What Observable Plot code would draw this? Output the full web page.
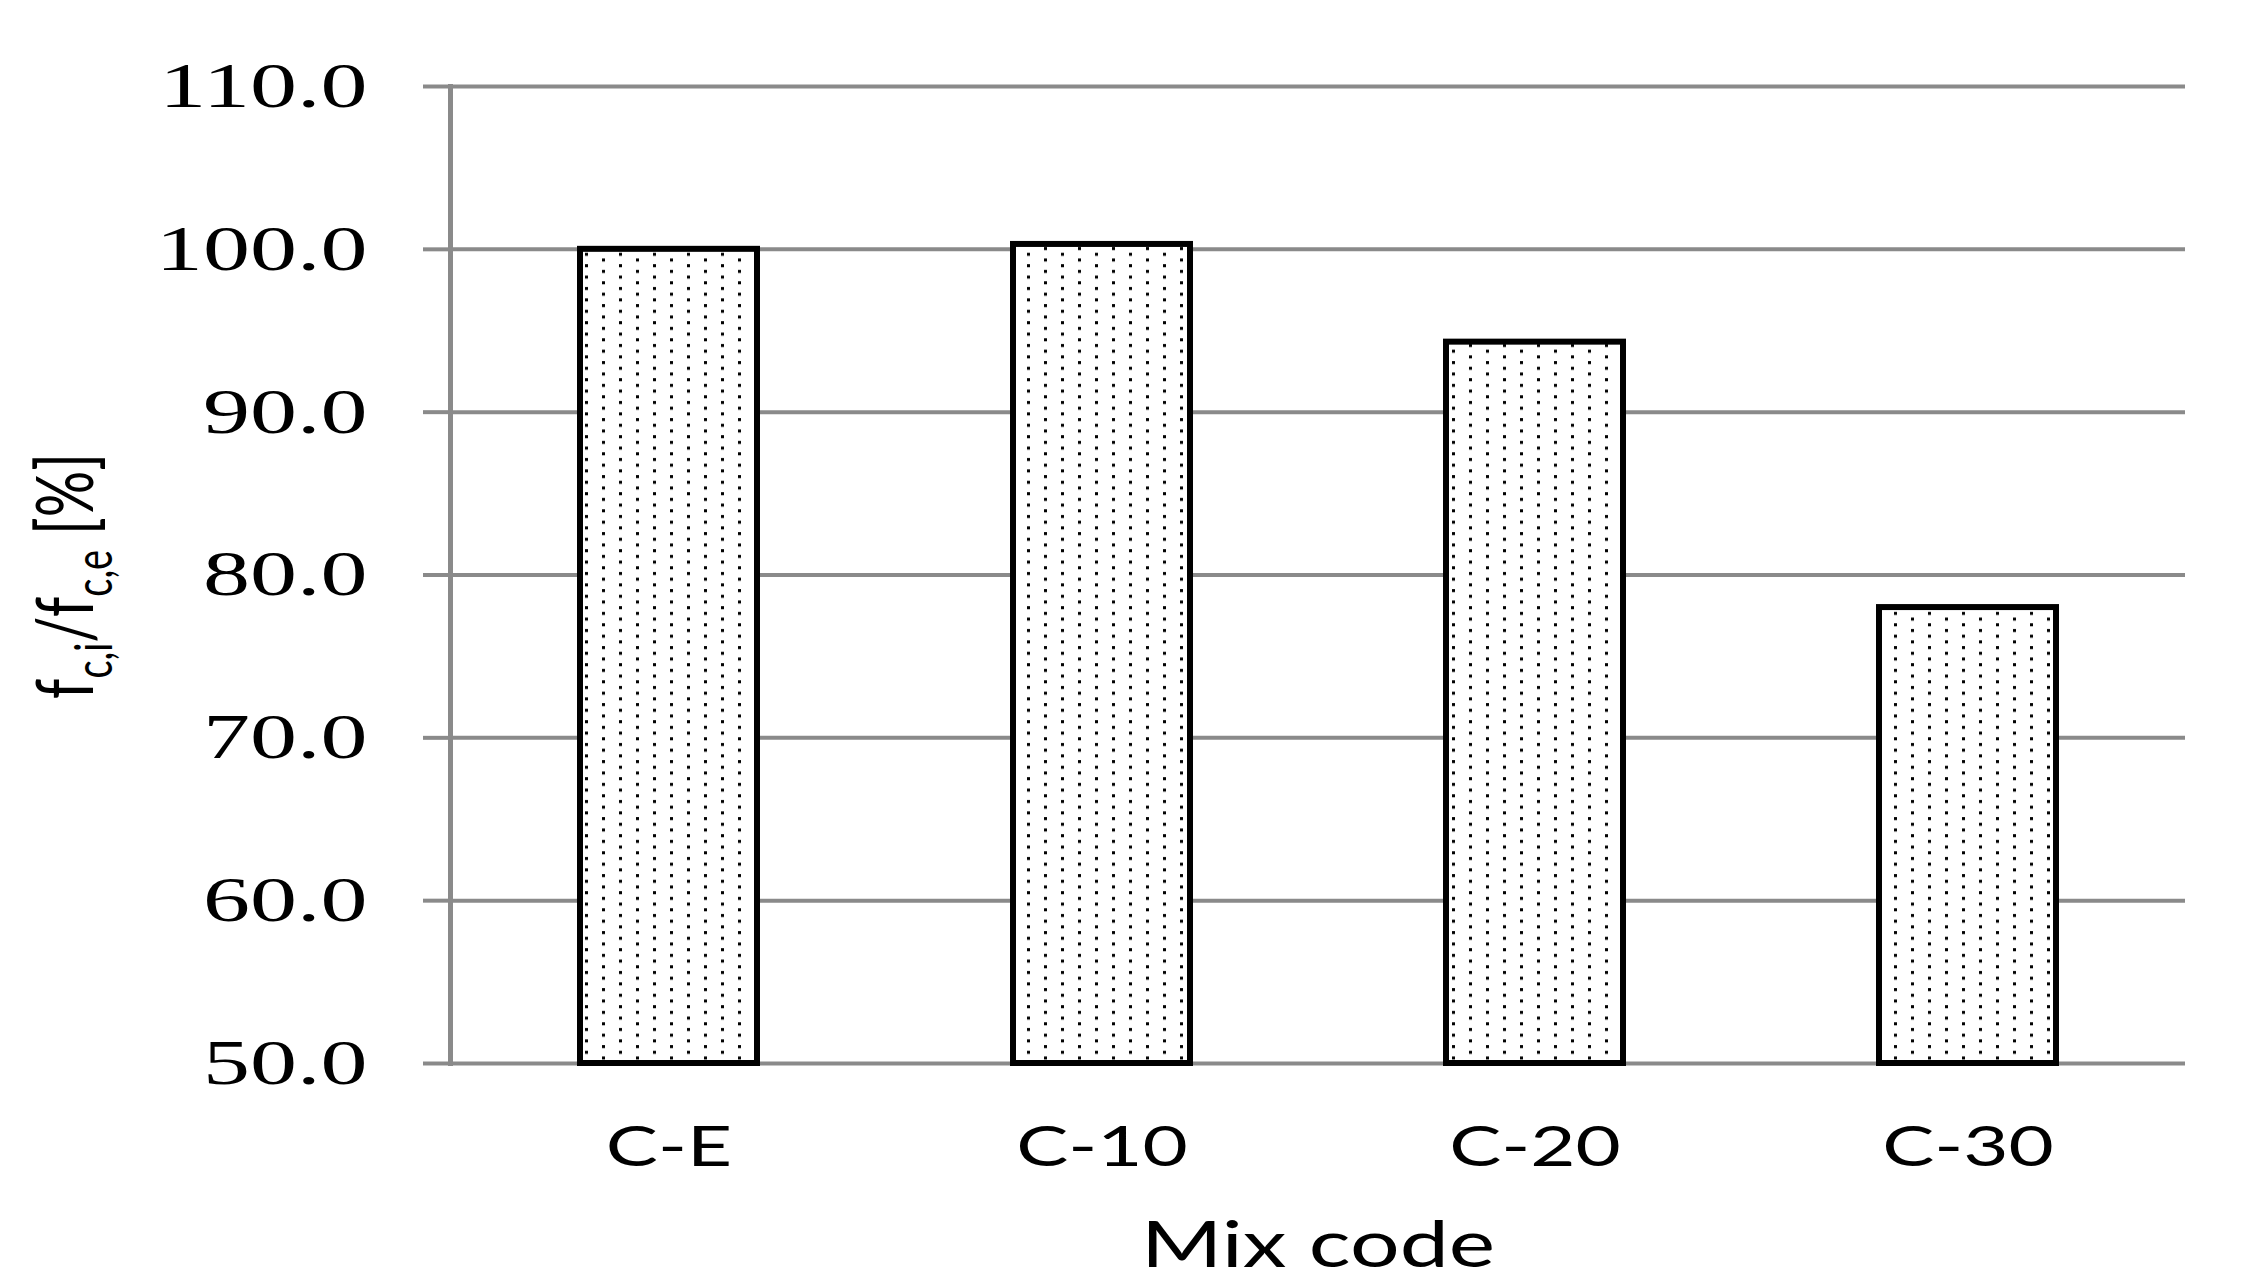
<!DOCTYPE html>
<html><head><meta charset="utf-8">
<script src="https://cdn.jsdelivr.net/npm/d3@7"></script>
<script src="https://cdn.jsdelivr.net/npm/@observablehq/plot@0.6"></script>
<style>html,body{margin:0;padding:0;background:#fff;}</style>
</head><body><div id="chart"></div>
<script>
const mixes = ["C-E", "C-10", "C-20", "C-30"];
const ratios = [100.0, 100.3, 94.3, 78.0];
const yTicks = [50, 60, 70, 80, 90, 100, 110];
const xTitle = "Mix code";

const data = mixes.map((m, i) => ({mix: m, value: ratios[i]}));
const gray = "#8a8a8a";

const chart = Plot.plot({
  width: 2242, height: 1283,
  marginLeft: 450, marginRight: 57, marginTop: 86, marginBottom: 220,
  style: {background: "#fff", color: "#000", fontFamily: "Lato, sans-serif"},
  x: {domain: mixes, paddingInner: 0.592, paddingOuter: 0.296, label: null},
  y: {domain: [50, 110], label: null},
  marks: [
    Plot.gridY(yTicks, {stroke: gray, strokeOpacity: 1, strokeWidth: 4}),
    Plot.axisY(yTicks, {tickSize: 27, tickPadding: 56, stroke: gray, strokeWidth: 4, fill: "#000",
      fontSize: 64, fontFamily: "'Liberation Serif', serif", tickFormat: d => d.toFixed(1), label: null}),
    Plot.frame({anchor: "left", stroke: gray, strokeWidth: 5}),
    Plot.barY(data, {x: "mix", y1: 50, y2: "value", fill: "url(#dots)", stroke: "#000", strokeWidth: 6}),
    Plot.axisX({tickSize: 0, tickPadding: 62, fontSize: 57, fill: "#000", label: null}),
    Plot.text([xTitle], {frameAnchor: "bottom", dy: 203, fontSize: 64, fill: "#000", lineAnchor: "bottom"})
  ]
});
document.getElementById("chart").appendChild(chart);

const svg = d3.select(chart);
const defs = svg.insert("defs", ":first-child");
const pat = defs.append("pattern").attr("id", "dots").attr("patternUnits", "userSpaceOnUse")
  .attr("width", 34).attr("height", 11.4);
pat.append("rect").attr("width", 34).attr("height", 11.4).attr("fill", "#fff");
pat.append("rect").attr("x", 7).attr("y", 2).attr("width", 3).attr("height", 3).attr("fill", "#000");
pat.append("rect").attr("x", 24).attr("y", 7.7).attr("width", 3).attr("height", 3).attr("fill", "#000");

// horizontal stretch of the text, as in the reference
svg.selectAll("text").each(function() {
  const g = this.closest("g[aria-label]");
  const isY = g && /y-axis/.test(g.getAttribute("aria-label"));
  const s = isY ? 1.47 : 1.37;
  const bb = this.getBBox();
  const anchor = getComputedStyle(this).textAnchor;
  const ax = anchor === "end" ? bb.x + bb.width : anchor === "middle" ? bb.x + bb.width / 2 : bb.x;
  const old = this.getAttribute("transform") || "";
  this.setAttribute("transform", `${old} translate(${ax},0) scale(${s},1) translate(${-ax},0)`);
});

// y-axis label with subscripts
const yl = svg.append("text")
  .attr("transform", "translate(93,576) scale(1.37,1) rotate(-90)")
  .attr("text-anchor", "middle").attr("font-family", "Lato, sans-serif")
  .attr("font-size", 58).attr("fill", "#000");
yl.append("tspan").text("f");
yl.append("tspan").attr("font-size", 38).attr("dy", 14).text("c,i");
yl.append("tspan").attr("dy", -14).text("/f");
yl.append("tspan").attr("font-size", 38).attr("dy", 14).text("c,e");
yl.append("tspan").attr("dy", -14).text(" [%]");
</script>
</body></html>
